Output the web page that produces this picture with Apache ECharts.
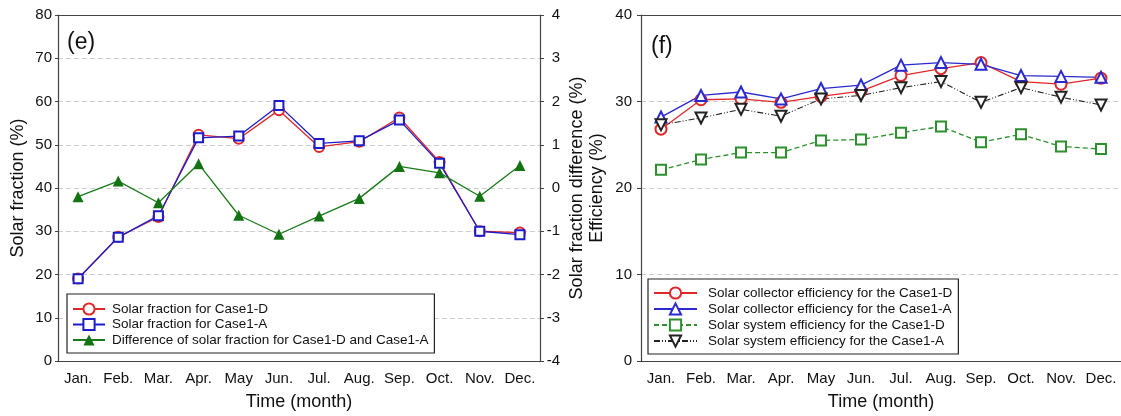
<!DOCTYPE html>
<html>
<head>
<meta charset="utf-8">
<script src="https://cdn.jsdelivr.net/npm/echarts@6/dist/echarts.min.js"></script>
<style>
  html, body { margin: 0; padding: 0; background: #fff; }
  #chart { width: 1121px; height: 416px; }
</style>
</head>
<body>
<div id="chart"></div>
<script>
// Month categories shared by both panels
const months = ['Jan.', 'Feb.', 'Mar.', 'Apr.', 'May', 'Jun.', 'Jul.', 'Aug.', 'Sep.', 'Oct.', 'Nov.', 'Dec.'];

// Panel (e): solar fraction (%) and its difference (%)
const sfCase1D = [19.1, 28.7, 33.3, 52.3, 51.4, 58.0, 49.5, 50.7, 56.3, 46.0, 30.0, 29.7];
const sfCase1A = [19.0, 28.6, 33.6, 51.6, 52.0, 59.1, 50.3, 50.9, 55.7, 45.7, 30.0, 29.2];
const sfDiff   = [-0.20, 0.16, -0.34, 0.56, -0.63, -1.07, -0.65, -0.24, 0.50, 0.35, -0.19, 0.52];

// Panel (f): collector and system efficiency (%)
const collCase1D = [26.8, 30.2, 30.3, 29.9, 30.6, 31.2, 33.0, 33.8, 34.5, 32.3, 32.0, 32.7];
const collCase1A = [28.2, 30.7, 31.1, 30.3, 31.5, 31.9, 34.2, 34.5, 34.3, 33.0, 32.9, 32.8];
const sysCase1D  = [22.1, 23.3, 24.1, 24.1, 25.5, 25.6, 26.4, 27.1, 25.3, 26.2, 24.8, 24.5];
const sysCase1A  = [27.3, 28.1, 29.1, 28.3, 30.3, 30.7, 31.6, 32.3, 29.9, 31.6, 30.5, 29.6];

const FONT = '"Liberation Sans", Arial, sans-serif';
const AXIS_COLOR = '#444';
const TEXT_COLOR = '#111';

const chart = echarts.init(document.getElementById('chart'), null, { renderer: 'canvas' });

function bottomX(gridIndex) {
  return {
    type: 'category', gridIndex, data: months, position: 'bottom',
    boundaryGap: true,
    name: 'Time (month)', nameLocation: 'middle', nameGap: 32,
    nameTextStyle: { fontFamily: FONT, fontSize: 18, color: TEXT_COLOR },
    axisLine: { onZero: false, lineStyle: { color: AXIS_COLOR, width: 1.2 } },
    axisTick: { inside: true, length: 5, alignWithLabel: true, interval: 0, lineStyle: { color: AXIS_COLOR } },
    axisLabel: { fontFamily: FONT, fontSize: 15, color: TEXT_COLOR, margin: 10, interval: 0 },
    splitLine: { show: false }
  };
}
function topX(gridIndex) {
  return {
    type: 'category', gridIndex, data: months, position: 'top',
    boundaryGap: true,
    axisLine: { onZero: false, lineStyle: { color: AXIS_COLOR, width: 1.2 } },
    axisTick: { inside: true, length: 5, alignWithLabel: true, interval: 0, lineStyle: { color: AXIS_COLOR } },
    axisLabel: { show: false },
    splitLine: { show: false }
  };
}

const option = {
  backgroundColor: '#fff',
  animation: false,
  textStyle: { fontFamily: FONT },
  grid: [
    { left: 58, top: 15, width: 482, height: 347 },
    { left: 641, top: 15, width: 482, height: 347 }
  ],
  xAxis: [bottomX(0), topX(0), bottomX(1), topX(1)],
  yAxis: [
    {
      type: 'value', gridIndex: 0, min: 0, max: 80, interval: 10, position: 'left',
      name: 'Solar fraction (%)', nameLocation: 'middle', nameGap: 31, nameRotate: 90,
      nameTextStyle: { fontFamily: FONT, fontSize: 18, color: TEXT_COLOR },
      axisLine: { show: true, onZero: false, lineStyle: { color: AXIS_COLOR, width: 1.2 } },
      axisTick: { show: true, length: 3, lineStyle: { color: AXIS_COLOR } },
      axisLabel: { fontFamily: FONT, fontSize: 15, color: TEXT_COLOR, margin: 6 },
      splitLine: { show: true, lineStyle: { color: '#cfcfcf', type: [5, 3], width: 1 } }
    },
    {
      type: 'value', gridIndex: 0, min: -4, max: 4, interval: 1, position: 'right',
      name: 'Solar fraction difference (%)', nameLocation: 'middle', nameGap: 28, nameRotate: 90,
      nameTextStyle: { fontFamily: FONT, fontSize: 18, color: TEXT_COLOR },
      axisLine: { show: true, onZero: false, lineStyle: { color: AXIS_COLOR, width: 1.2 } },
      axisTick: { show: true, length: 4, lineStyle: { color: AXIS_COLOR } },
      axisLabel: { fontFamily: FONT, fontSize: 15, color: TEXT_COLOR, margin: 20, align: 'right' },
      splitLine: { show: false }
    },
    {
      type: 'value', gridIndex: 1, min: 0, max: 40, interval: 10, position: 'left',
      name: 'Efficiency (%)', nameLocation: 'middle', nameGap: 35, nameRotate: 90,
      nameTextStyle: { fontFamily: FONT, fontSize: 18, color: TEXT_COLOR },
      axisLine: { show: true, onZero: false, lineStyle: { color: AXIS_COLOR, width: 1.2 } },
      axisTick: { show: true, length: 4, lineStyle: { color: AXIS_COLOR } },
      axisLabel: { fontFamily: FONT, fontSize: 15, color: TEXT_COLOR, margin: 9 },
      splitLine: { show: true, lineStyle: { color: '#cfcfcf', type: [5, 3], width: 1 } }
    }
  ],
  legend: [
    {
      orient: 'vertical', left: 67, top: 294,
      data: ['Solar fraction for Case1-D', 'Solar fraction for Case1-A', 'Difference of solar fraction for Case1-D and Case1-A'],
      itemWidth: 32, itemHeight: 14, itemGap: 1.5,
      padding: [8, 6, 6, 5],
      borderColor: '#222', borderWidth: 1.2, borderRadius: 0,
      backgroundColor: '#fff',
      textStyle: { fontFamily: FONT, fontSize: 13.5, color: TEXT_COLOR, padding: [0, 0, 0, 2] }
    },
    {
      orient: 'vertical', left: 648, top: 279,
      data: ['Solar collector efficiency for the Case1-D', 'Solar collector efficiency for the Case1-A',
             'Solar system efficiency for the Case1-D', 'Solar system efficiency for the Case1-A'],
      itemWidth: 43, itemHeight: 14, itemGap: 2,
      padding: [7, 6, 6, 5],
      borderColor: '#222', borderWidth: 1.2, borderRadius: 0,
      backgroundColor: '#fff',
      textStyle: { fontFamily: FONT, fontSize: 13.5, color: TEXT_COLOR, padding: [0, 0, 0, 6] }
    }
  ],
  graphic: [
    { type: 'text', left: 67, top: 31, style: { text: '(e)', font: '23px ' + FONT, fill: TEXT_COLOR } },
    { type: 'text', left: 651, top: 35, style: { text: '(f)', font: '23px ' + FONT, fill: TEXT_COLOR } }
  ],
  series: [
    {
      name: 'Solar fraction for Case1-D', type: 'line', xAxisIndex: 0, yAxisIndex: 0,
      data: sfCase1D, symbol: 'emptyCircle', symbolSize: 10,
      lineStyle: { color: '#e0282a', width: 1.3 },
      itemStyle: { color: '#e0282a', borderWidth: 1.2 }
    },
    {
      name: 'Solar fraction for Case1-A', type: 'line', xAxisIndex: 0, yAxisIndex: 0,
      data: sfCase1A, symbol: 'emptyRect', symbolSize: 9,
      lineStyle: { color: '#1c1cc8', width: 1.3 },
      itemStyle: { color: '#1c1cc8', borderWidth: 1.2 }
    },
    {
      name: 'Difference of solar fraction for Case1-D and Case1-A', type: 'line', xAxisIndex: 0, yAxisIndex: 1,
      data: sfDiff, symbol: 'triangle', symbolSize: 11,
      lineStyle: { color: '#1a7a1a', width: 1.3 },
      itemStyle: { color: '#137313' }
    },
    {
      name: 'Solar collector efficiency for the Case1-D', type: 'line', xAxisIndex: 2, yAxisIndex: 2,
      data: collCase1D, symbol: 'emptyCircle', symbolSize: 11,
      lineStyle: { color: '#e0282a', width: 1.3 },
      itemStyle: { color: '#e0282a', borderWidth: 1.2 }
    },
    {
      name: 'Solar collector efficiency for the Case1-A', type: 'line', xAxisIndex: 2, yAxisIndex: 2,
      data: collCase1A, symbol: 'emptyTriangle', symbolSize: 11,
      lineStyle: { color: '#2a2ad0', width: 1.3 },
      itemStyle: { color: '#2a2ad0', borderWidth: 1.2 }
    },
    {
      name: 'Solar system efficiency for the Case1-D', type: 'line', xAxisIndex: 2, yAxisIndex: 2,
      data: sysCase1D, symbol: 'emptyRect', symbolSize: 10,
      lineStyle: { color: '#2e8f2e', width: 1.3, type: [5, 3] },
      itemStyle: { color: '#2e8f2e', borderWidth: 1.2 }
    },
    {
      name: 'Solar system efficiency for the Case1-A', type: 'line', xAxisIndex: 2, yAxisIndex: 2,
      data: sysCase1A, symbol: 'emptyTriangle', symbolSize: 11, symbolRotate: 180,
      lineStyle: { color: '#222', width: 1.1, type: [6, 2, 1, 2, 1, 2] },
      itemStyle: { color: '#222', borderWidth: 1.2 }
    }
  ]
};

chart.setOption(option);
</script>
</body>
</html>
